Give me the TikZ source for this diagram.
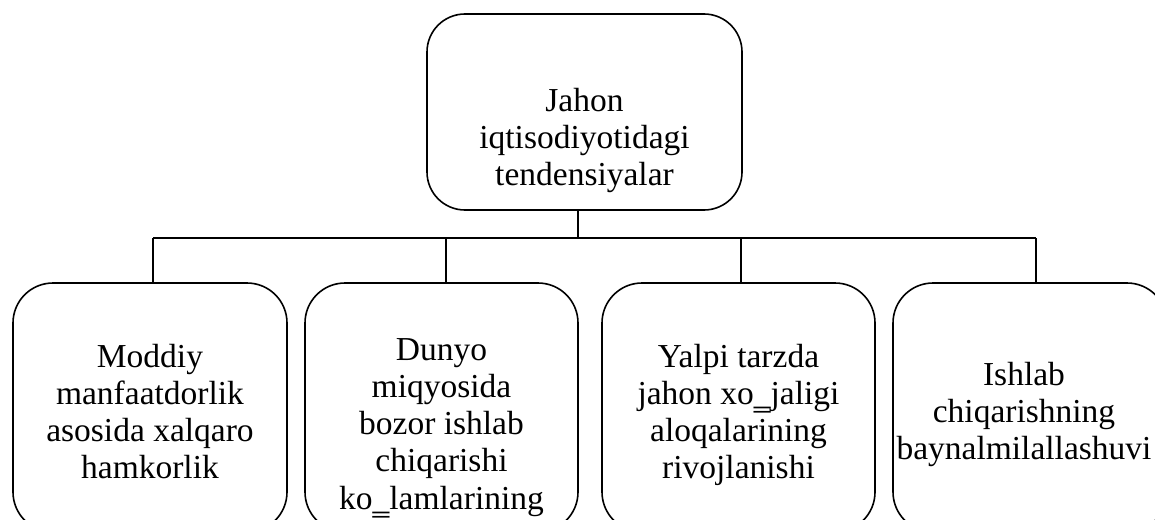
\documentclass[tikz,border=0pt]{standalone}
\usepackage{fontspec}
\setmainfont{Liberation Serif}
\begin{document}
\begin{tikzpicture}[x=1pt,y=-1pt,
  box/.style={draw, line width=1.6pt, rounded corners=40pt, inner sep=0pt},
  txt/.style={anchor=base, inner sep=0pt, font=\fontsize{33.5}{37.3}\selectfont},
  conn/.style={draw, line width=1.6pt}]
\useasboundingbox (0,0) rectangle (1155,519);
\clip (0,0) rectangle (1155,519);
\fill[white] (0,0) rectangle (1155,519);
% boxes
\node[box, minimum width=315pt, minimum height=196pt, rounded corners=38pt] (top) at (584.5,112) {};
\node[box, minimum width=274pt, minimum height=249pt] (b1) at (150,407.5) {};
\node[box, minimum width=273pt, minimum height=249pt] (b2) at (441.5,407.5) {};
\node[box, minimum width=273pt, minimum height=249pt] (b3) at (738.5,407.5) {};
\node[box, minimum width=274pt, minimum height=249pt] (b4) at (1030,407.5) {};
% texts
\node[txt] (t0) at (584.5,111) {\begin{tabular}[t]{@{}c@{}}Jahon\\iqtisodiyotidagi\\tendensiyalar\end{tabular}};
\node[txt] (t1) at (150,367) {\begin{tabular}[t]{@{}c@{}}Moddiy\\manfaatdorlik\\asosida xalqaro\\hamkorlik\end{tabular}};
\node[txt] (t2) at (441.5,360) {\begin{tabular}[t]{@{}c@{}}Dunyo\\miqyosida\\bozor ishlab\\chiqarishi\\ko‗lamlarining\end{tabular}};
\node[txt] (t3) at (738.5,367) {\begin{tabular}[t]{@{}c@{}}Yalpi tarzda\\jahon xo‗jaligi\\aloqalarining\\rivojlanishi\end{tabular}};
\node[txt] (t4) at (1024,385) {\begin{tabular}[t]{@{}c@{}}Ishlab\\chiqarishning\\baynalmilallashuvi\end{tabular}};
% connectors
\coordinate (j) at (578,238);
\coordinate (d1) at (153,238);
\coordinate (d2) at (446,238);
\coordinate (d3) at (741,238);
\coordinate (d4) at (1036,238);
\draw[conn] (top.south -| j) -- (j);
\draw[conn] (d1) -- (d4);
\draw[conn] (d1) -- (d1 |- b1.north);
\draw[conn] (d2) -- (d2 |- b2.north);
\draw[conn] (d3) -- (d3 |- b3.north);
\draw[conn] (d4) -- (d4 |- b4.north);
\end{tikzpicture}
\end{document}
